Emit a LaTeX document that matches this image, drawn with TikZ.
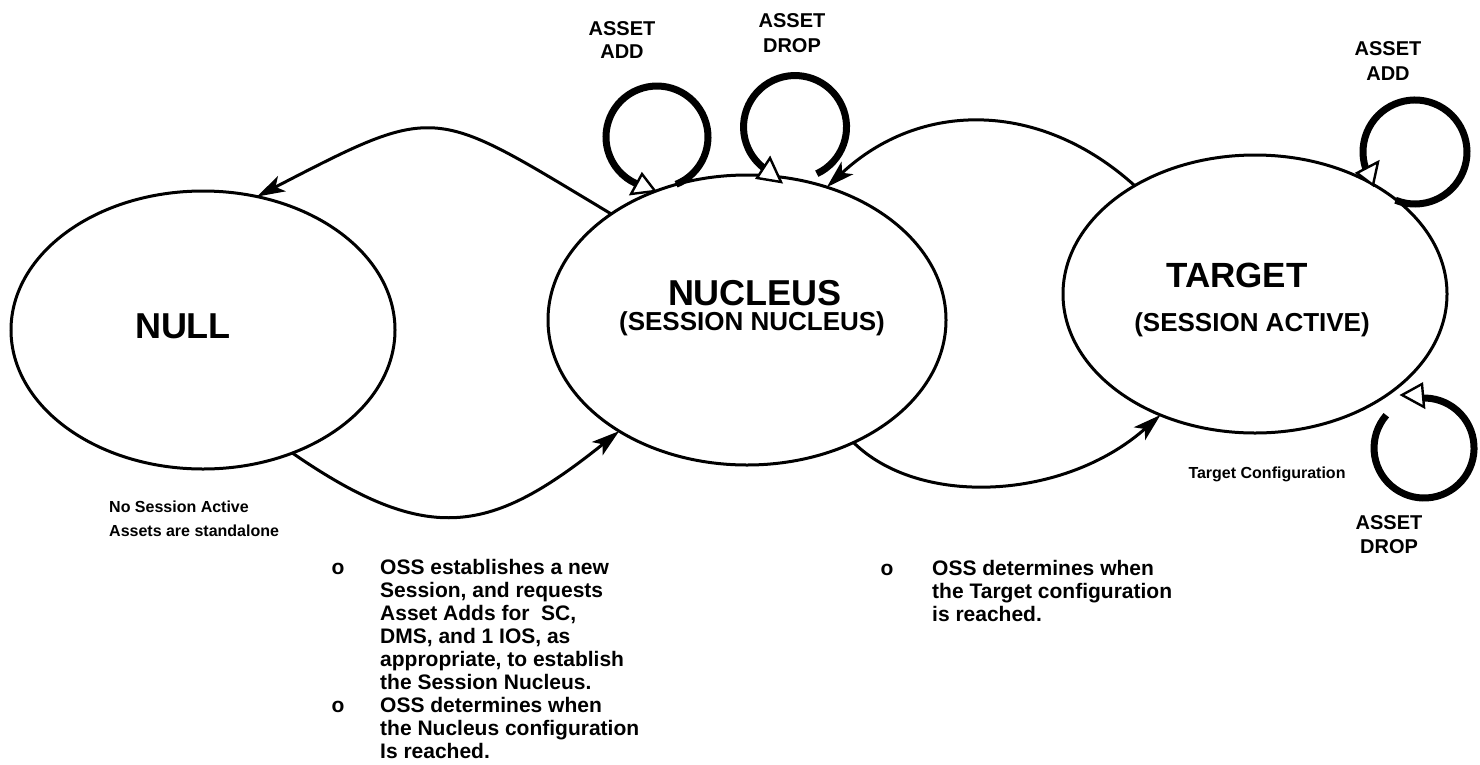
\documentclass[tikz,border=0pt]{standalone}
\usepackage{fontspec}
\setmainfont{Liberation Sans}
\usetikzlibrary{shapes.geometric,arrows.meta}
\begin{document}
\begin{tikzpicture}[x=1pt,y=-1pt,
  state/.style={ellipse,draw,line width=3pt,outer sep=0pt,inner sep=0pt},
  conn/.style={line width=3pt,-{Stealth[length=28pt,width=17pt,inset=7pt]}},
  loopline/.style={line width=7pt,line cap=butt},
  opentri/.style={draw,fill=white,line width=2.4pt,line join=miter},
  big/.style={font=\fontsize{36}{40}\selectfont\bfseries,inner sep=0pt,anchor=base},
  sub/.style={font=\fontsize{26}{30}\selectfont\bfseries,inner sep=0pt,anchor=base},
  lbl/.style={font=\fontsize{20}{24}\selectfont\bfseries,inner sep=0pt,anchor=base},
  small/.style={font=\fontsize{16}{19}\selectfont\bfseries,inner sep=0pt,anchor=base west},
  note/.style={font=\fontsize{21}{23}\selectfont\bfseries,inner sep=0pt,anchor=base west},
  bullet/.style={font=\fontsize{21}{23}\selectfont\bfseries,inner sep=0pt,anchor=base},
]
\useasboundingbox (0,0) rectangle (1480,764);

% states
\node[state,minimum width=384pt,minimum height=278pt] (null) at (203,330) {};
\node[state,minimum width=398pt,minimum height=290pt] (nucleus) at (747,320) {};
\node[state,minimum width=384pt,minimum height=278pt] (target) at (1255,294) {};

\node[big] (tnull) at (183,338) {NULL};
\node[big] (tnuc) at (755,305) {NUCLEUS};
\node[sub] (tnucs) at (752,330) {(SESSION NUCLEUS)};
\node[big,font=\fontsize{35}{40}\selectfont\bfseries] (ttar) at (1237,287) {TARGET};
\node[sub] (ttars) at (1252,331) {(SESSION ACTIVE)};

% transitions
\draw[conn] (nucleus.142) .. controls (431,106) and (440,102) .. (null.68);
\draw[conn] (null.306) .. controls (430,548) and (492,533) .. (nucleus.221);
\draw[conn] (target.138) .. controls (1040,100) and (920,100) .. (nucleus.59);
\draw[conn] (nucleus.311.5) .. controls (920,508) and (1065,500) .. (target.232);

% self loops
\draw[loopline] (676.1,184.3) arc[start angle=68,end angle=-252,radius=51];
\draw[opentri] (642,174) -- (631,194) -- (655,191) -- cycle;

\draw[loopline] (816.8,173.7) arc[start angle=65,end angle=-242,radius=51.5];
\draw[opentri] (770,158) -- (757,178) -- (781,182) -- cycle;

\draw[loopline] (1395.5,200.2) arc[start angle=112,end angle=-204,radius=52];
\draw[opentri] (1357,173) -- (1378,162) -- (1373,185) -- cycle;

\draw[loopline] (1386.3,415.2) arc[start angle=221,end angle=-93,radius=50];
\draw[opentri] (1402,395) -- (1422,384) -- (1424,407) -- cycle;

% loop labels
\node[lbl] (la1) at (622,35.5) {ASSET};
\node[lbl] (la2) at (622,58.5) {ADD};
\node[lbl] (ld1) at (792,27.5) {ASSET};
\node[lbl] (ld2) at (792,52) {DROP};
\node[lbl] (ra1) at (1388,55.5) {ASSET};
\node[lbl] (ra2) at (1388,80.5) {ADD};
\node[lbl] (rd1) at (1389,529) {ASSET};
\node[lbl] (rd2) at (1389,553) {DROP};

% small notes
\node[small] (n1) at (109,512) {No Session Active};
\node[small] (n2) at (109,536) {Assets are standalone};
\node[small,anchor=base] (n3) at (1267,478) {Target Configuration};

% left bullet block
\node[bullet] (b1) at (338,574.5) {o};
\node[note] (l1) at (380,574.5) {OSS establishes a new};
\node[note] (l2) at (380,597.5) {Session, and requests};
\node[note] (l3) at (380,620.5) {Asset Adds for\ \ SC,};
\node[note] (l4) at (380,643.5) {DMS, and 1 IOS, as};
\node[note] (l5) at (380,666.5) {appropriate, to establish};
\node[note] (l6) at (380,689.5) {the Session Nucleus.};
\node[bullet] (b2) at (338,712.5) {o};
\node[note] (l7) at (380,712.5) {OSS determines when};
\node[note] (l8) at (380,735.5) {the Nucleus configuration};
\node[note] (l9) at (380,758.5) {Is reached.};

% right bullet block
\node[bullet] (b3) at (887,575.5) {o};
\node[note] (r1) at (932,575.5) {OSS determines when};
\node[note] (r2) at (932,598.5) {the Target configuration};
\node[note] (r3) at (932,621.5) {is reached.};
\end{tikzpicture}
\end{document}
